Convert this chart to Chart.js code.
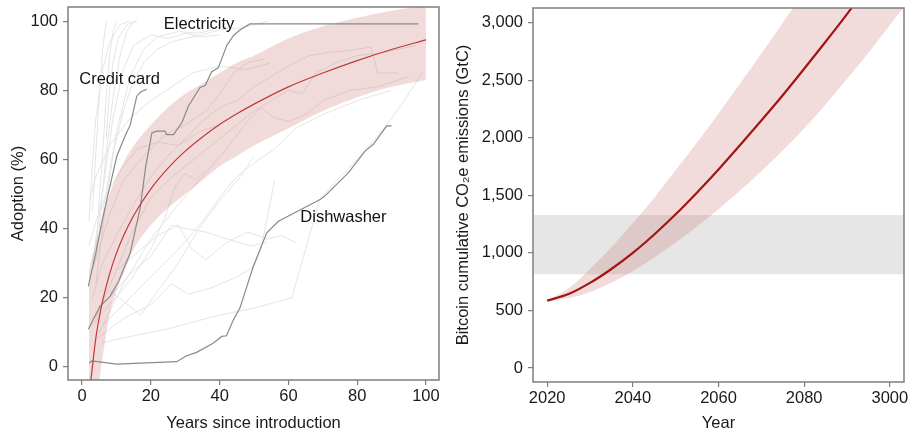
<!DOCTYPE html>
<html lang="en">
<head>
    <meta charset="UTF-8">
    <title>Adoption and Bitcoin emissions</title>
    <script src="https://cdn.jsdelivr.net/npm/chart.js"></script>
    <style>
        html, body {
            margin: 0;
            padding: 0;
            background: #fff;
        }

        .panel {
            position: absolute;
            top: 0;
            height: 433px;
        }

        #left { left: 0; width: 450px; }
        #right { left: 450px; width: 461px; }
    </style>
</head>
<body>
<div class="panel" id="left"><canvas id="adoptionChart" width="450" height="433"></canvas></div>
<div class="panel" id="right"><canvas id="bitcoinChart" width="461" height="433"></canvas></div>
<script>
    // ---- left panel data (years since introduction, adoption %) ----
    const fitYears = [2.3, 3, 4, 5, 6, 8, 10, 12, 15, 20, 25, 30, 35, 40, 45, 50, 60, 70, 80, 90, 100];
    const fitMean  = [-6, 0, 8.4, 14.3, 19.2, 26.9, 32.9, 37.8, 43.8, 51.5, 57.5, 62.4, 66.5, 70.1, 73.2, 76, 81, 85, 88.6, 91.8, 94.6];

    const bandYears = [2, 3, 4, 5, 6, 8, 10, 12, 15, 20, 25, 30, 35, 40, 45, 50, 60, 70, 80, 90, 100];
    const bandUpper = [28, 32, 36, 40, 44, 50, 55, 59, 64, 70, 75, 79, 82, 85, 88, 90, 95, 98.5, 101, 103, 104.5];
    const bandLower = [-40, -25, -12, -4, 3, 15, 22, 27, 34, 41, 46, 50, 54, 58, 61, 64, 69, 74, 78, 81, 83];

    const creditCard = [[1.8, 23.3], [4, 33], [6, 43], [7.2, 48.4], [8.1, 52.3], [10.1, 61], [12.5, 66.8], [14, 70],
        [15.9, 78.3], [17, 79.5], [18.8, 80.3]];
    const electricity = [[1.8, 10.9], [5.2, 17.5], [8.1, 20.4], [10.6, 24.7], [14, 33], [16.9, 46], [18.5, 58],
        [20.3, 67.7], [21.7, 68.2], [24.1, 68.2], [24.6, 67.2], [26.6, 67.2], [29, 70.6], [30.9, 75.4], [34.3, 80.8],
        [35.8, 81.4], [37.7, 85.4], [39.6, 86.5], [42.1, 93], [44, 95.8], [46, 97.5], [48.8, 99.2], [97.8, 99.2]];
    const dishwasher = [[2.1, 1.1], [2.8, 1.7], [10.1, 0.8], [27.5, 1.5], [30.4, 3.2], [33.3, 4.2], [38.2, 6.9],
        [40.6, 8.8], [42, 9], [44, 13.6], [45.9, 17], [49.8, 29.1], [53.7, 38.8], [57.1, 42.1], [69.2, 48.4],
        [70.6, 49.4], [77.4, 56.1], [82.3, 62.4], [84.7, 64.4], [88.6, 69.7], [90, 69.7]];

    // other technologies, drawn faint
    const otherTechs = [
        [[3, 45], [4, 62], [5, 78], [6, 92], [7, 100]],
        [[4, 32], [5, 48], [6, 62], [7, 78], [8, 90], [9, 97], [10, 100]],
        [[5, 40], [7, 62], [9, 78], [11, 90], [13, 97], [15, 100]],
        [[3, 30], [5, 44], [7, 58], [9, 72], [12, 86], [15, 93], [20, 96], [25, 95], [30, 96.5], [35, 95.5], [40, 96]],
        [[4, 24], [7, 48], [10, 68], [14, 84], [18, 92], [22, 95.5], [28, 97], [34, 96.5], [38, 97.5]],
        [[2, 42], [3, 58], [4, 72], [6, 86], [8, 94], [11, 99], [14, 100]],
        [[7, 66], [8, 80], [9, 88], [10.5, 95], [13, 99], [16, 100]],
        [[6, 45], [9, 62], [12, 74], [15, 83], [18, 88], [22, 92], [26, 94], [30, 95], [35, 96], [40, 97.5], [46, 98], [50, 99], [54, 100]],
        [[3, 20], [6, 30], [10, 38], [15, 47], [20, 55], [25, 61], [30, 66], [35, 71], [40, 75], [45, 77], [50, 81], [55, 84],
            [60, 87], [66, 90], [72, 91], [78, 91.5], [84, 92.5], [86, 85], [92, 85]],
        [[4, 14], [10, 28], [15, 40], [20, 49], [25, 54], [30, 58], [35, 62], [40, 66], [45, 70], [50, 74], [55, 77], [60, 80],
            [64, 79], [68, 85], [74, 88], [80, 90], [88, 91], [97, 93]],
        [[5, 10], [12, 24], [20, 37], [28, 47], [35, 55], [42, 63], [48, 71], [52, 75], [56, 72], [60, 71], [65, 73], [70, 77],
            [78, 80], [86, 81], [95, 84]],
        [[3, 28], [8, 44], [12, 54], [18, 61], [24, 67], [30, 70], [36, 74], [40, 79], [44, 85], [48, 88], [53, 89]],
        [[6, 12], [15, 21], [22, 28], [28, 34], [35, 42], [40, 49], [45, 55], [50, 59], [56, 63], [62, 69], [70, 73], [80, 77], [90, 80]],
        [[5.7, 7], [15, 9], [25, 11], [40, 15], [50, 17], [61, 20], [65, 34], [69, 48], [74, 54], [80, 60], [87, 68], [93, 76], [99, 85]],
        [[4, 8], [12, 14], [20, 18], [26, 24], [31, 21], [38, 23], [45, 26], [50, 29], [52, 34], [54, 44], [56, 54]],
        [[8, 20], [14, 27], [20, 32], [26, 41], [30, 40], [36, 39], [42, 37], [49, 35], [54, 36]],
        [[10, 28], [16, 33], [22, 38], [28, 41], [32, 34], [36, 31], [42, 36], [48, 39], [54, 37], [58, 38], [62, 36]],
        [[8, 22], [12, 19], [17, 15], [22, 22], [28, 30], [34, 40], [40, 48], [46, 55], [50, 61]],
        [[2, 48], [4, 55], [8, 64], [14, 72], [20, 77], [26, 81], [32, 85], [40, 87], [48, 86], [55, 88]],
        [[3, 12], [8, 18], [14, 25], [20, 34], [24, 43], [27, 52], [30, 56], [33, 54], [36, 57]],
        [[2, 35], [4, 42], [7, 50], [12, 58], [16, 63], [22, 65], [28, 64], [34, 68], [40, 70]]
    ];

    const adoptionTicks = [0, 20, 40, 60, 80, 100];
    const yearsTicks = [0, 20, 40, 60, 80, 100];

    // ---- right panel data (year, cumulative GtC) ----
    const years = [2020, 2025, 2030, 2035, 2040, 2045, 2050, 2055, 2060, 2065, 2070, 2075, 2080, 2085, 2090, 2095, 2100, 2105];
    const emissionsMean  = [585, 642, 739, 860, 1000, 1160, 1335, 1525, 1725, 1935, 2150, 2370, 2600, 2835, 3075, 3330, 3590, 3860];
    const emissionsHigh  = [585, 690, 860, 1050, 1260, 1480, 1720, 1960, 2210, 2470, 2730, 3000, 3270, 3550, 3830, 4110, 4390, 4670];
    const emissionsLow   = [585, 605, 660, 740, 840, 960, 1090, 1230, 1380, 1540, 1710, 1890, 2080, 2290, 2510, 2740, 2980, 3220];
    const budgetLow = 815;
    const budgetHigh = 1330;
    const budgetYears = [2016, 2105];

    const yearTicks = [2020, 2040, 2060, 2080, 2100];
    const yearTickLabels = ['2020', '2040', '2060', '2080', '3000'];
    const emissionTicks = [0, 500, 1000, 1500, 2000, 2500, 3000];

    Chart.defaults.font.family = "'Liberation Sans', Arial, Helvetica, sans-serif";
    Chart.defaults.font.size = 16.5;
    Chart.defaults.color = '#1a1a1a';
    Chart.defaults.animation = false;

    const toPoints = (xs, ys) => xs.map((x, i) => ({x: x, y: ys[i]}));
    const pairs = arr => arr.map(p => ({x: p[0], y: p[1]}));

    // keep the plot box exactly where the layout padding says
    function fixSize(prop, size) {
        return axis => {
            axis[prop] = size;
            axis.paddingTop = 0;
            axis.paddingBottom = 0;
            axis.paddingLeft = 0;
            axis.paddingRight = 0;
        };
    }

    // box round the plot + text labels
    const framePlugin = {
        id: 'frame',
        afterDraw(chart) {
            const {ctx, chartArea: a} = chart;
            ctx.save();
            ctx.strokeStyle = '#7d7d7d';
            ctx.lineWidth = 1.5;
            ctx.strokeRect(a.left, a.top, a.right - a.left, a.bottom - a.top);
            const notes = chart.options.plugins.frame.notes || [];
            ctx.fillStyle = '#111';
            ctx.font = "16.5px 'Liberation Sans', Arial, sans-serif";
            ctx.textAlign = 'center';
            ctx.textBaseline = 'middle';
            notes.forEach(n => {
                ctx.fillText(n.text, chart.scales.x.getPixelForValue(n.x), chart.scales.y.getPixelForValue(n.y));
            });
            ctx.restore();
        }
    };

    const tickGrid = {display: true, drawOnChartArea: false, drawTicks: true, tickLength: 5, color: '#7d7d7d', lineWidth: 1.2};

    // ---------------- left chart ----------------
    const leftSets = [
        {data: toPoints(fitYears, fitMean), borderColor: '#c0393b', borderWidth: 1.2, cubicInterpolationMode: 'monotone'},
        {data: pairs(creditCard), borderColor: '#8a8a8a', borderWidth: 1.2},
        {data: pairs(electricity), borderColor: '#8a8a8a', borderWidth: 1.2},
        {data: pairs(dishwasher), borderColor: '#8a8a8a', borderWidth: 1.2},
        {data: toPoints(bandYears, bandUpper), borderWidth: 0, borderColor: 'transparent', backgroundColor: 'rgba(205, 120, 120, 0.27)',
            fill: '+1', cubicInterpolationMode: 'monotone'},
        {data: toPoints(bandYears, bandLower), borderWidth: 0, borderColor: 'transparent', cubicInterpolationMode: 'monotone'}
    ];
    otherTechs.forEach(line => {
        leftSets.push({data: pairs(line), borderColor: '#e4e4e4', borderWidth: 1});
    });
    leftSets.forEach(d => { d.pointRadius = 0; if (d.fill === undefined) d.fill = false; });

    new Chart(document.getElementById('adoptionChart'), {
        type: 'line',
        data: {datasets: leftSets},
        plugins: [framePlugin],
        options: {
            responsive: false,
            layout: {padding: {left: 0, top: 7, right: 11, bottom: 0}},
            plugins: {
                legend: {display: false},
                tooltip: {enabled: false},
                frame: {notes: [
                    {text: 'Electricity', x: 34, y: 99},
                    {text: 'Credit card', x: 10.9, y: 83.2},
                    {text: 'Dishwasher', x: 76, y: 43.2}
                ]}
            },
            scales: {
                x: {
                    type: 'linear', min: -4.1, max: 103.8,
                    afterFit: fixSize('height', 53),
                    afterBuildTicks: axis => { axis.ticks = yearsTicks.map(v => ({value: v})); },
                    grid: tickGrid, border: {display: false},
                    ticks: {padding: 2, maxRotation: 0},
                    title: {display: true, text: 'Years since introduction', padding: {top: 1, bottom: 0}}
                },
                y: {
                    type: 'linear', min: -3.8, max: 104.1,
                    afterFit: fixSize('width', 68),
                    afterBuildTicks: axis => { axis.ticks = adoptionTicks.map(v => ({value: v})); },
                    grid: tickGrid, border: {display: false},
                    ticks: {padding: 5},
                    title: {display: true, text: 'Adoption (%)', padding: {top: 8.5, bottom: 0}}
                }
            }
        }
    });

    // ---------------- right chart ----------------
    const rightSets = [
        {data: toPoints(years, emissionsMean), borderColor: '#a31515', borderWidth: 2.2, cubicInterpolationMode: 'monotone'},
        {data: toPoints(years, emissionsHigh), borderWidth: 0, borderColor: 'transparent', backgroundColor: 'rgba(205, 110, 110, 0.25)',
            fill: '+1', cubicInterpolationMode: 'monotone'},
        {data: toPoints(years, emissionsLow), borderWidth: 0, borderColor: 'transparent', cubicInterpolationMode: 'monotone'},
        {data: toPoints(budgetYears, [budgetHigh, budgetHigh]), borderWidth: 0, borderColor: 'transparent',
            backgroundColor: '#e6e6e6', fill: '+1'},
        {data: toPoints(budgetYears, [budgetLow, budgetLow]), borderWidth: 0, borderColor: 'transparent'}
    ];
    rightSets.forEach(d => { d.pointRadius = 0; if (d.fill === undefined) d.fill = false; });

    new Chart(document.getElementById('bitcoinChart'), {
        type: 'line',
        data: {datasets: rightSets},
        plugins: [framePlugin],
        options: {
            responsive: false,
            layout: {padding: {left: 0, top: 8, right: 7, bottom: 0}},
            plugins: {
                legend: {display: false},
                tooltip: {enabled: false},
                frame: {notes: []}
            },
            scales: {
                x: {
                    type: 'linear', min: 2016.7, max: 2103.3,
                    afterFit: fixSize('height', 51),
                    afterBuildTicks: axis => { axis.ticks = yearTicks.map(v => ({value: v})); },
                    grid: tickGrid, border: {display: false},
                    ticks: {
                        padding: 2, maxRotation: 0,
                        callback: v => yearTickLabels[yearTicks.indexOf(v)]
                    },
                    title: {display: true, text: 'Year', padding: {top: 1, bottom: 0}}
                },
                y: {
                    type: 'linear', min: -122, max: 3128,
                    afterFit: fixSize('width', 83),
                    afterBuildTicks: axis => { axis.ticks = emissionTicks.map(v => ({value: v})); },
                    grid: tickGrid, border: {display: false},
                    ticks: {padding: 5, callback: v => v.toLocaleString('en-US')},
                    title: {display: true, text: 'Bitcoin cumulative CO\u2082e emissions (GtC)', padding: {top: 4, bottom: 0}}
                }
            }
        }
    });
</script>
</body>
</html>
